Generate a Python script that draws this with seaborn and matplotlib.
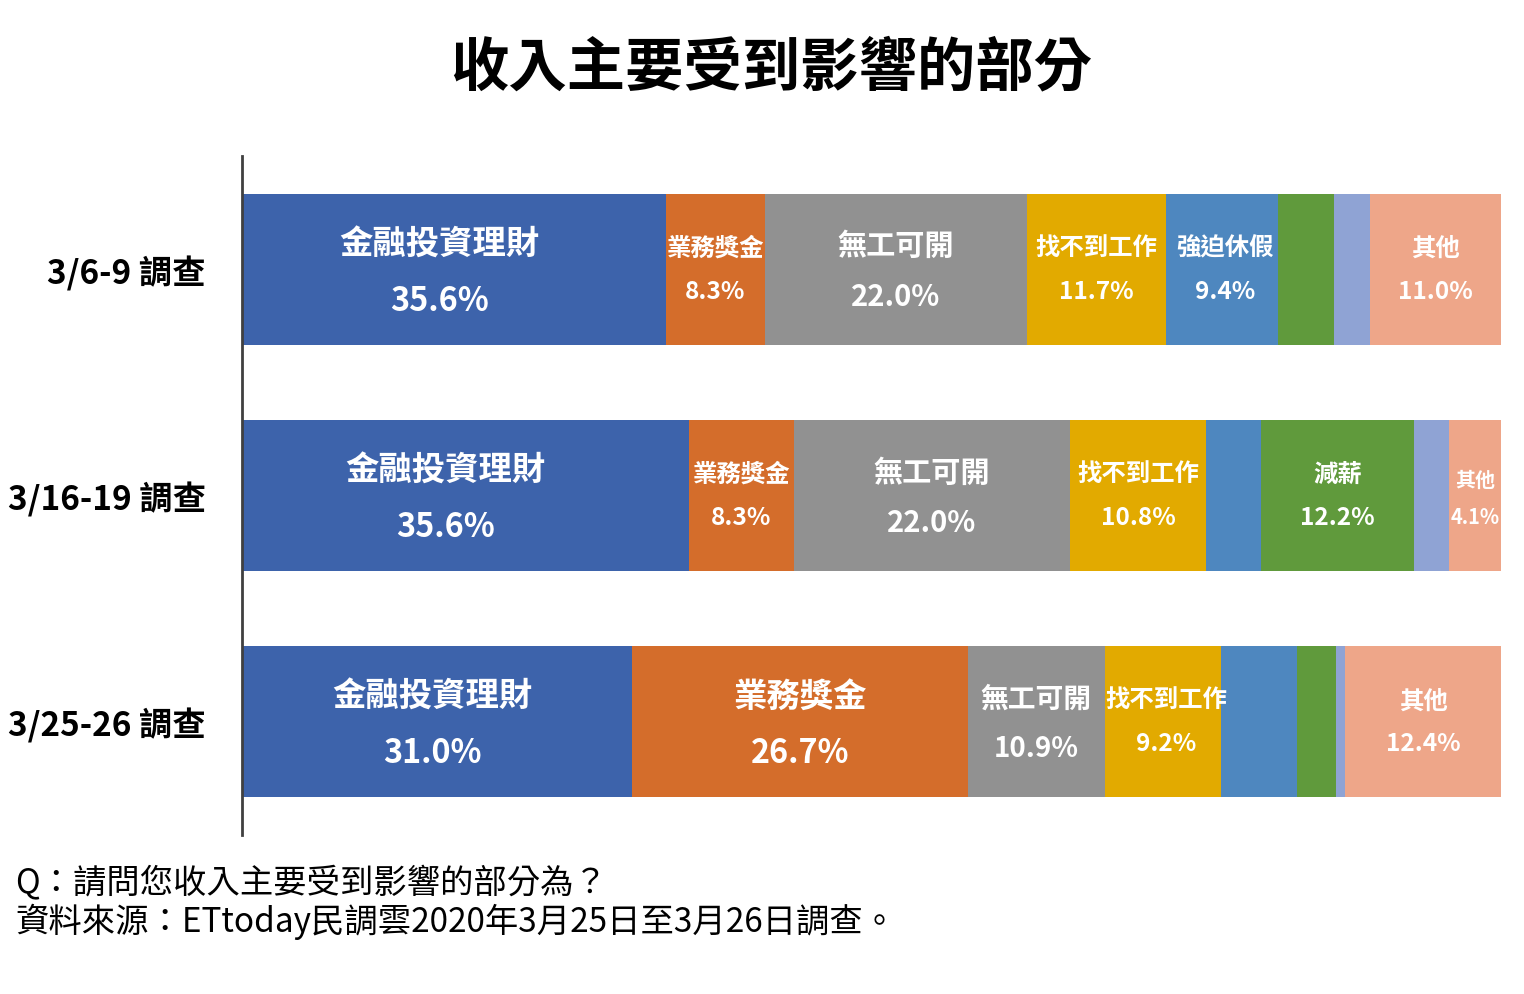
import numpy as np
import pandas as pd
import seaborn as sns
import matplotlib
matplotlib.use("Agg")
import matplotlib.pyplot as plt

# ---------------- data ----------------
surveys = ["3/6-9 調查", "3/16-19 調查", "3/25-26 調查"]
categories = ["金融投資理財", "業務獎金", "無工可開", "找不到工作",
              "強迫休假", "減薪", "被裁員", "其他"]
v_finance = [35.6, 35.6, 31.0]
v_bonus = [8.3, 8.3, 26.7]
v_nowork = [22.0, 22.0, 10.9]
v_nojob = [11.7, 10.8, 9.2]
v_leave = [9.4, 4.4, 6.1]
v_paycut = [4.7, 12.2, 3.1]
v_laidoff = [3.0, 2.8, 0.7]
v_other = [11.0, 4.1, 12.4]
title = "收入主要受到影響的部分"
footer1 = "Q：請問您收入主要受到影響的部分為？"
footer2 = "資料來源：ETtoday民調雲2020年3月25日至3月26日調查。"

# ---------------- style ----------------
colors = ["#3D63AB", "#D46D2B", "#919191", "#E2AA00",
          "#4E87BF", "#609A3C", "#8FA3D4", "#EEA689"]
# label size tier per (category index, row); absent = no label
tiers = {
    (0, 0): "L", (1, 0): "S", (2, 0): "M", (3, 0): "S", (4, 0): "S", (7, 0): "S",
    (0, 1): "L", (1, 1): "S", (2, 1): "M", (3, 1): "S", (5, 1): "S", (7, 1): "XS",
    (0, 2): "L", (1, 2): "L", (2, 2): "M2", (3, 2): "S", (7, 2): "S",
}
# horizontal nudges of some labels (in axis percent units)
label_dx = {(0, 0): -1.15, (0, 1): -1.63, (0, 2): -0.36, (3, 2): 0.3,
            (4, 0): 0.2}
tier_style = {  # size, name offset, pct offset
    "L": (24, -0.112, 0.137),
    "M": (21, -0.106, 0.119),
    "M2": (20, -0.102, 0.114),
    "S": (17.6, -0.095, 0.095),
    "XS": (14.4, -0.072, 0.092),
}

sns.set_theme(style="white")
plt.rcParams["font.family"] = ["Noto Sans CJK TC", "DejaVu Sans"]

W, H = 1524, 995
fig = plt.figure(figsize=(W / 100, H / 100), dpi=100)
fig.patch.set_facecolor("white")
ax = fig.add_axes([242 / W, 1 - 836 / H, (1501 - 242) / W, (836 - 157) / H])

raw = np.array([v_finance, v_bonus, v_nowork, v_nojob,
                v_leave, v_paycut, v_laidoff, v_other])
share = raw / raw.sum(axis=0) * 100
cum = np.cumsum(share, axis=0)

for i in reversed(range(len(categories))):
    df = pd.DataFrame({"survey": surveys, "x": cum[i]})
    sns.barplot(data=df, x="x", y="survey", orient="h", color=colors[i],
                saturation=1, width=0.668, errorbar=None, linewidth=0,
                edgecolor="none", ax=ax)

for (i, j), t in tiers.items():
    size, dn, dp = tier_style[t]
    xc = cum[i, j] - share[i, j] / 2 + label_dx.get((i, j), 0)
    ax.text(xc, j + dn, categories[i], ha="center", va="center",
            color="white", fontsize=size, fontweight="bold")
    ax.text(xc, j + dp, f"{raw[i, j]:.1f}%", ha="center", va="center",
            color="white", fontsize=size * (0.97 if t == "L" else 1.0),
            fontweight="bold")

ax.set_xlim(0, 100)
ax.set_ylim(2.5, -0.5)
ax.set_xlabel("")
ax.set_ylabel("")
ax.set_xticks([])
for s in ["top", "right", "bottom"]:
    ax.spines[s].set_visible(False)
ax.spines["left"].set_color("#404040")
ax.spines["left"].set_linewidth(2)
ax.tick_params(axis="y", length=0, pad=26)
for lab in ax.get_yticklabels():
    lab.set_fontsize(24)
    lab.set_fontweight("bold")
    lab.set_color("black")

fig.text(771 / W, 1 - 68 / H, title, ha="center", va="center",
         fontsize=42, fontweight="bold", color="black")
fig.text(15 / W, 1 - 883 / H, footer1, ha="left", va="center",
         fontsize=24, color="black")
fig.text(15 / W, 1 - 922 / H, footer2, ha="left", va="center",
         fontsize=24, color="black")

fig.savefig("out.png", dpi=100, facecolor="white")
